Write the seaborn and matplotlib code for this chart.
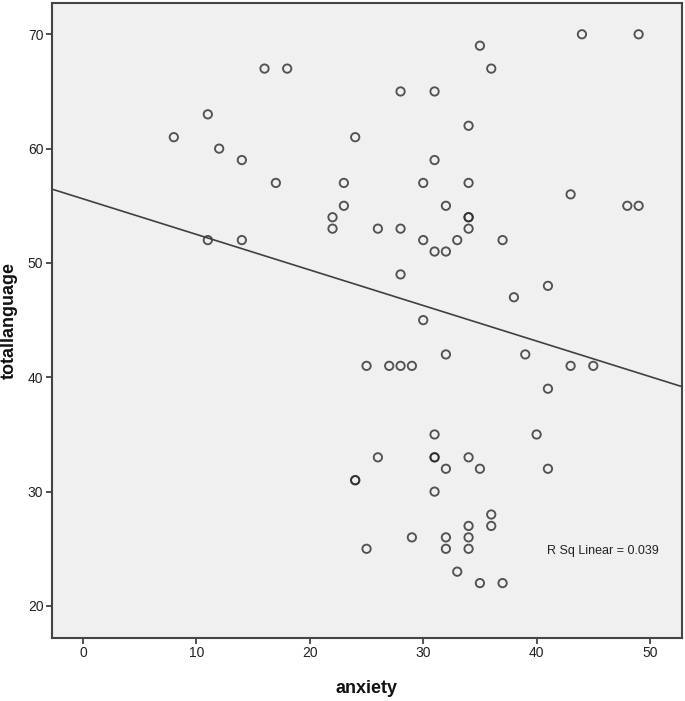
import matplotlib
matplotlib.use("Agg")
import matplotlib.pyplot as plt
import seaborn as sns
import numpy as np
import pandas as pd

anxiety = [16, 18, 11, 8, 24, 12, 14, 17, 23, 23, 22, 22, 11, 14,
           44, 49, 35, 36, 28, 31, 34, 31, 30, 34, 43, 32, 48, 49, 34, 34,
           26, 28, 34, 30, 33, 37, 31, 32, 28, 41, 38, 30,
           25, 27, 28, 29, 32, 39, 43, 45, 41, 31, 40, 26, 31, 31, 34, 32,
           35, 41, 24, 24, 31, 36, 36, 34, 29, 32, 34, 25, 32, 34, 33, 35, 37]
totallanguage = [67, 67, 63, 61, 61, 60, 59, 57, 57, 55, 54, 53, 52, 52,
                 70, 70, 69, 67, 65, 65, 62, 59, 57, 57, 56, 55, 55, 55, 54, 54,
                 53, 53, 53, 52, 52, 52, 51, 51, 49, 48, 47, 45,
                 41, 41, 41, 41, 42, 42, 41, 41, 39, 35, 35, 33, 33, 33, 33, 32,
                 32, 32, 31, 31, 30, 28, 27, 27, 26, 26, 26, 25, 25, 25, 23, 22, 22]
x_ticks = [0, 10, 20, 30, 40, 50]
y_ticks = [20, 30, 40, 50, 60, 70]
annotation = "R Sq Linear = 0.039"

df = pd.DataFrame({"anxiety": anxiety, "totallanguage": totallanguage})

sns.set_style("white")
plt.rcParams["font.family"] = ["Liberation Sans", "DejaVu Sans"]

fig = plt.figure(figsize=(6.85, 7.01), dpi=100)
ax = fig.add_axes([0.0755, 0.0899, 0.9197, 0.9062])
ax.set_facecolor("#f0f0f0")
ax.set_xlim(-2.77, 52.8)
ax.set_ylim(17.2, 72.76)

sns.regplot(data=df, x="anxiety", y="totallanguage", ax=ax, ci=None, truncate=False,
            scatter_kws=dict(s=36, facecolors="none", edgecolors="#2a2a2a", linewidths=1.35),
            line_kws=dict(color="#404040", linewidth=1.2))
ax.set_xlim(-2.77, 52.8)
ax.set_ylim(17.2, 72.76)

ax.set_xticks(x_ticks)
ax.set_yticks(y_ticks)
ax.tick_params(axis="both", direction="out", length=4, width=1.2, color="#333333",
               labelsize=10, labelcolor="#222222", pad=2, bottom=True, left=True)
for sp in ax.spines.values():
    sp.set_color("#444444")
    sp.set_linewidth(1.5)

ax.set_xlabel("anxiety", fontsize=13, fontweight="bold", color="#111111", labelpad=14)
ax.set_ylabel("totallanguage", fontsize=13, fontweight="bold", color="#111111")
ax.yaxis.set_label_coords(-0.0535, 0.5)
ax.text(40.9, 24.8, annotation, fontsize=9, color="#222222", ha="left", va="center")

fig.savefig("out.png", dpi=100, facecolor="white")
